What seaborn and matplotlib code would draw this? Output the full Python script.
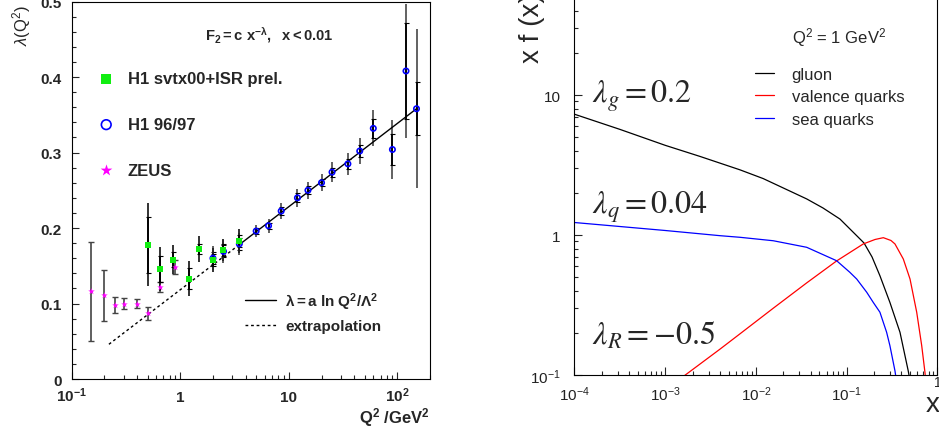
import numpy as np
import pandas as pd
import matplotlib

matplotlib.use("Agg")
import matplotlib.pyplot as plt
import matplotlib.ticker as mticker
import matplotlib.transforms as mtransforms
import seaborn as sns

# ---------------- left panel: lambda(Q^2) ----------------
# H1 svtx00+ISR prel. (green squares)
isr_q2 = [0.5, 0.65, 0.85, 1.2, 1.5, 2.0, 2.5, 3.5]
isr_lam = [0.178, 0.146, 0.158, 0.133, 0.172, 0.158, 0.171, 0.183]
isr_stat = [0.037, 0.017, 0.010, 0.014, 0.007, 0.008, 0.008, 0.008]
isr_tot = [0.055, 0.029, 0.019, 0.023, 0.017, 0.016, 0.015, 0.016]

# H1 96/97 (open blue circles)
h1_q2 = [2.0, 2.5, 3.5, 5.0, 6.5, 8.5, 12, 15, 20, 25, 35, 45, 60, 90, 120, 150]
h1_lam = [0.160, 0.169, 0.179, 0.196, 0.203, 0.2225, 0.240, 0.250, 0.260,
          0.274, 0.285, 0.302, 0.332, 0.304, 0.408, 0.358]
h1_stat = [0.008, 0.008, 0.008, 0.004, 0.004, 0.005, 0.006, 0.005, 0.005,
           0.006, 0.007, 0.008, 0.0125, 0.021, 0.064, 0.035]
h1_tot = [0.016, 0.015, 0.015, 0.008, 0.009, 0.011, 0.012, 0.011, 0.011,
          0.013, 0.015, 0.017, 0.024, 0.039, 0.089, 0.105]

# ZEUS (magenta stars)
zeus_q2 = [0.15, 0.2, 0.25, 0.3, 0.4, 0.5, 0.65, 0.9]
zeus_lam = [0.116, 0.111, 0.098, 0.0997, 0.0997, 0.087, 0.122, 0.148]
zeus_err = [0.065, 0.034, 0.010, 0.007, 0.006, 0.009, 0.007, 0.009]

# lambda = a ln Q2/Lambda2 fit and its extrapolation (end points)
fit_q2 = [3.5, 150]
fit_lam = [0.178, 0.358]
extrap_q2 = [0.22, 3.5]
extrap_lam = [0.046, 0.178]

# ---------------- right panel: x f(x) at Q2 = 1 GeV2 ----------------
gluon_x = [1e-4, 3.17e-4, 1e-3, 2.42e-3, 6.67e-3, 0.012, 0.0362, 0.0547, 0.0842,
           0.1287, 0.155, 0.190, 0.232, 0.299, 0.386, 0.476, 0.498]
gluon_y = [7.29, 5.68, 4.37, 3.64, 2.92, 2.53, 1.81, 1.56, 1.30,
           0.989, 0.877, 0.697, 0.512, 0.330, 0.202, 0.107, 0.0906]

valence_x = [1.45e-3, 4.01e-3, 6.67e-3, 0.0155, 0.0362, 0.0774, 0.152, 0.205,
             0.253, 0.307, 0.340, 0.420, 0.498, 0.590, 0.670, 0.728, 0.743]
valence_y = [0.0936, 0.153, 0.197, 0.300, 0.455, 0.653, 0.863, 0.929,
             0.957, 0.914, 0.863, 0.674, 0.485, 0.281, 0.162, 0.104, 0.0906]

sea_x = [1e-4, 1e-3, 4.01e-3, 6.67e-3, 0.0155, 0.0362, 0.0774, 0.108, 0.1287,
         0.166, 0.196, 0.232, 0.275, 0.299, 0.340, 0.353]
sea_y = [1.228, 1.077, 0.989, 0.963, 0.910, 0.817, 0.655, 0.542, 0.485,
         0.390, 0.330, 0.281, 0.202, 0.162, 0.107, 0.0906]

parton_names = ["gluon", "valence quarks", "sea quarks"]
parton_colors = {"gluon": "black", "valence quarks": "#ff0000", "sea quarks": "#0000ff"}

pdf = pd.concat(
    [
        pd.DataFrame({"x": gluon_x, "xf": gluon_y, "parton": "gluon"}),
        pd.DataFrame({"x": valence_x, "xf": valence_y, "parton": "valence quarks"}),
        pd.DataFrame({"x": sea_x, "xf": sea_y, "parton": "sea quarks"}),
    ],
    ignore_index=True,
)

# ---------------- style ----------------
sns.set_style("ticks")
plt.rcParams["font.family"] = ["Liberation Sans", "DejaVu Sans"]
plt.rcParams["mathtext.fontset"] = "custom"
plt.rcParams["mathtext.rm"] = "Liberation Sans"
plt.rcParams["mathtext.it"] = "Liberation Sans:italic"
plt.rcParams["mathtext.bf"] = "Liberation Sans:bold"
plt.rcParams["axes.linewidth"] = 0.8
plt.rcParams["axes.edgecolor"] = "black"

fig = plt.figure(figsize=(9.39, 4.35), dpi=100)
ax1 = fig.add_axes([0.0764, 0.1264, 0.3816, 0.8678])
ax2 = fig.add_axes([0.6118, 0.1356, 0.3866, 0.8851])

# ---- left panel ----
ax1.set_xscale("log")
ax1.set_xlim(0.1, 200)
ax1.set_ylim(0, 0.5)

ax1.errorbar(zeus_q2, zeus_lam, yerr=zeus_err, fmt="none", ecolor="#444444",
             elinewidth=1.2, capsize=2.2, capthick=1.0, zorder=2)
ax1.errorbar(h1_q2, h1_lam, yerr=h1_tot, fmt="none", ecolor="#555555",
             elinewidth=1.3, capsize=0, zorder=2)
ax1.errorbar(h1_q2, h1_lam, yerr=h1_stat, fmt="none", ecolor="black",
             elinewidth=1.3, capsize=1.8, capthick=0.8, zorder=2)
ax1.errorbar(isr_q2, isr_lam, yerr=isr_tot, fmt="none", ecolor="#222222",
             elinewidth=1.3, capsize=0, zorder=2)
ax1.errorbar(isr_q2, isr_lam, yerr=isr_stat, fmt="none", ecolor="black",
             elinewidth=1.3, capsize=1.8, capthick=0.8, zorder=2)

sns.lineplot(x=fit_q2, y=fit_lam, color="black", linewidth=1.0, ax=ax1,
             label=r"$\mathbf{\lambda = a\ ln\ Q^2/\Lambda^2}$", zorder=3)
sns.lineplot(x=extrap_q2, y=extrap_lam, color="black", linewidth=1.0, ax=ax1,
             linestyle=(0, (2, 2)), label="extrapolation", zorder=3)

sns.scatterplot(x=h1_q2, y=h1_lam, marker="o", s=15, facecolor="none",
                edgecolor="#0000ff", linewidth=1.2, ax=ax1, label="H1 96/97", zorder=4)
sns.scatterplot(x=isr_q2, y=isr_lam, marker="s", s=15, color="#11ee11",
                linewidth=0, ax=ax1, label="H1 svtx00+ISR prel.", zorder=5)
sns.scatterplot(x=zeus_q2, y=zeus_lam, marker="*", s=24, color="#ff00ff",
                linewidth=0, ax=ax1, label="ZEUS", zorder=5)

handles, labels = ax1.get_legend_handles_labels()
hmap = dict(zip(labels, handles))
leg_pts = ax1.legend(
    [hmap["H1 svtx00+ISR prel."], hmap["H1 96/97"], hmap["ZEUS"]],
    ["H1 svtx00+ISR prel.", "H1 96/97", "ZEUS"],
    loc="upper left", bbox_to_anchor=(0.073, 0.815), frameon=False,
    prop={"weight": "bold", "size": 12}, markerscale=1.8,
    handlelength=1.0, handletextpad=0.8, labelspacing=1.84,
    borderpad=0, borderaxespad=0,
)
ax1.add_artist(leg_pts)
ax1.legend(
    [hmap[labels[0]], hmap["extrapolation"]],
    [labels[0], "extrapolation"],
    loc="upper left", bbox_to_anchor=(0.484, 0.236), frameon=False,
    prop={"weight": "bold", "size": 11}, handlelength=2.0,
    handletextpad=0.6, labelspacing=0.5, borderpad=0, borderaxespad=0,
)

ax1.text(0.372, 0.914, r"$\mathbf{F_2 = c\ x^{-\lambda},\ \ x < 0.01}$",
         transform=ax1.transAxes, fontsize=10.6, va="center", ha="left")

ax1.set_xticks([0.1, 1, 10, 100],
               labels=[r"$\mathbf{10^{-1}}$", "1", "10", r"$\mathbf{10^{2}}$"])
ax1.xaxis.set_minor_locator(mticker.LogLocator(base=10, subs=np.arange(2, 10)))
ax1.xaxis.set_minor_formatter(mticker.NullFormatter())
ax1.set_yticks([0, 0.1, 0.2, 0.3, 0.4, 0.5],
               labels=["0", "0.1", "0.2", "0.3", "0.4", "0.5"])
ax1.yaxis.set_minor_locator(mticker.MultipleLocator(0.02))
ax1.tick_params(which="both", direction="in", top=False, right=False, width=0.8)
ax1.tick_params(which="major", length=5)
ax1.tick_params(which="minor", length=2.8)
ax1.tick_params(axis="x", which="major", pad=15.6, labelsize=11)
ax1.tick_params(axis="y", which="major", pad=7, labelsize=11)
for lab in ax1.get_xticklabels():
    lab.set_va("baseline")
    lab.set_fontweight("bold")
for lab in ax1.get_yticklabels():
    lab.set_fontweight("bold")

ax1.set_xlabel(r"$\mathbf{Q^2\ /GeV^2}$", fontsize=12, ha="right")
ax1.xaxis.set_label_coords(1.0, -0.068)
ax1.set_ylabel(r"$\lambda$(Q$^2$)", fontsize=12, ha="right", va="center")
ax1.yaxis.set_label_coords(-0.139, 0.993)

# ---- right panel ----
sns.lineplot(data=pdf, x="x", y="xf", hue="parton", hue_order=parton_names,
             palette=parton_colors, sort=False, estimator=None,
             linewidth=0.9, ax=ax2)
ax2.set_xscale("log")
ax2.set_yscale("log")
ax2.set_xlim(1e-4, 1)
ax2.set_ylim(0.1, 10 ** 1.75)

ax2.legend(loc="upper left", bbox_to_anchor=(0.497, 0.800), frameon=False,
           fontsize=12, handlelength=1.14, handletextpad=1.06,
           labelspacing=0.44, borderpad=0, borderaxespad=0)
ax2.text(0.598, 0.865, r"Q$^2$ = 1 GeV$^2$", transform=ax2.transAxes,
         fontsize=12, va="baseline", ha="left")

lam_labels = [r"$\lambda_g = 0.2$", r"$\lambda_q = 0.04$", r"$\lambda_R = -0.5$"]
lam_y = [8.9, 1.45, 0.166]
for txt, yv in zip(lam_labels, lam_y):
    ax2.text(1.56e-4, yv, txt, fontsize=23, math_fontfamily="stix",
             va="baseline", ha="left")

ax2.set_xticks([1e-4, 1e-3, 1e-2, 1e-1, 1],
               labels=[r"$10^{-4}$", r"$10^{-3}$", r"$10^{-2}$", r"$10^{-1}$", "1"])
ax2.set_yticks([0.1, 1, 10], labels=[r"$10^{-1}$", "1", "10"])
ax2.xaxis.set_minor_locator(mticker.LogLocator(base=10, subs=np.arange(2, 10)))
ax2.yaxis.set_minor_locator(mticker.LogLocator(base=10, subs=np.arange(2, 10)))
ax2.xaxis.set_minor_formatter(mticker.NullFormatter())
ax2.yaxis.set_minor_formatter(mticker.NullFormatter())
ax2.tick_params(which="both", direction="in", top=False, right=False, width=0.8,
                labelcolor="#222222")
ax2.tick_params(which="major", length=5.5)
ax2.tick_params(which="minor", length=2.8)
ax2.tick_params(axis="x", which="major", pad=17.8, labelsize=11)
ax2.tick_params(axis="y", which="major", pad=10, labelsize=11)
for lab in ax2.get_xticklabels():
    lab.set_va("baseline")
# the "1" at x = 1 sits raised, next to the axis title, as in ROOT output
one_lab = ax2.get_xticklabels()[-1]
one_lab.set_fontsize(10)
one_lab.set_transform(one_lab.get_transform()
                      + mtransforms.ScaledTranslation(0, 10 / 72, fig.dpi_scale_trans))

ax2.set_xlabel("x", fontsize=20, ha="center", va="baseline")
ax2.xaxis.set_label_coords(0.986, -0.0935)
ax2.set_ylabel("x f (x)", fontsize=20, ha="left", va="center")
ax2.yaxis.set_label_coords(-0.117, 0.813)

plt.savefig("out.png", dpi=100)
plt.close()
